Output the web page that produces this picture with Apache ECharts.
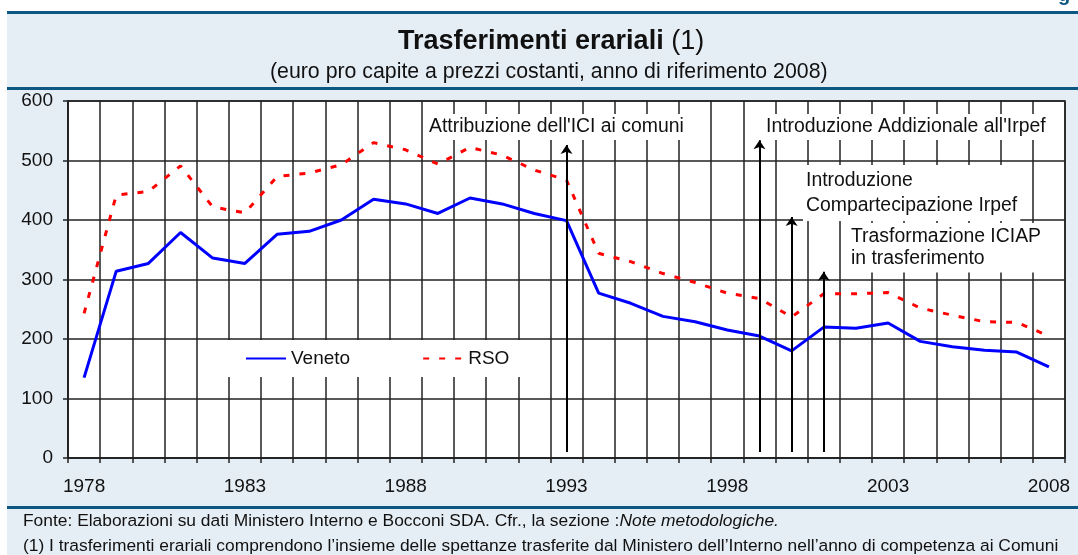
<!DOCTYPE html>
<html>
<head>
<meta charset="utf-8">
<script src="https://cdn.jsdelivr.net/npm/echarts@6/dist/echarts.min.js"></script>
<style>
  html, body { margin: 0; padding: 0; background: #fff; }
  #chart { width: 1078px; height: 555px; }
</style>
</head>
<body>
<div id="chart"></div>
<script>
// anni 1978-2008
const years = ["1978", "1979", "1980", "1981", "1982", "1983", "1984", "1985", "1986", "1987",
  "1988", "1989", "1990", "1991", "1992", "1993", "1994", "1995", "1996", "1997",
  "1998", "1999", "2000", "2001", "2002", "2003", "2004", "2005", "2006", "2007", "2008"];
const veneto = [135, 314, 327, 379, 336, 327, 376, 381, 400, 435,
  427, 411, 437, 427, 411, 399, 277, 260, 238, 229,
  215, 205, 180, 220, 218, 227, 196, 187, 181, 178, 153];
const rso = [243, 442, 448, 491, 422, 412, 473, 479, 493, 530,
  518, 494, 522, 509, 484, 467, 344, 330, 310, 295,
  277, 268, 237, 276, 276, 278, 252, 240, 229, 228, 205];

// frecce: anno, altezza della punta
const arrowYears = ["1993", "1999", "2000", "2001"];
const arrowTops = [526, 534, 405, 313];
const arrowBase = 10;

const titleText = "Trasferimenti erariali";
const subtitleText = "(euro pro capite a prezzi costanti, anno di riferimento 2008)";
const noteFonte = "Fonte: Elaborazioni su dati Ministero Interno e Bocconi SDA. Cfr., la sezione :";
const noteFonteItalic = "Note metodologiche.";
const note1 = "(1) I trasferimenti erariali comprendono l\u2019insieme delle spettanze trasferite dal Ministero dell\u2019Interno nell\u2019anno di competenza ai Comuni";

const FONT = '"Liberation Sans", Arial, sans-serif';
const DARK = "#0d5783";
const GRIDC = "#222";
const TXT = "#111";

let myChart = echarts.init(document.getElementById("chart"));

const annot = function (text, left, top, lineHeight) {
  return {
    type: "text",
    left: left,
    top: top,
    z: 10,
    style: {
      text: text,
      fill: TXT,
      fontSize: 19.4,
      fontFamily: FONT,
      lineHeight: lineHeight,
      backgroundColor: "#fff",
      padding: [3, 3],
    },
  };
};

let option = {
  animation: false,
  backgroundColor: "#e6eef5",
  title: [
    {
      text: "{b|" + titleText + "} {n|(1)}",
      left: 398,
      top: 28,
      padding: 0,
      textStyle: {
        fontFamily: FONT,
        fontSize: 27,
        fontWeight: "normal",
        color: TXT,
        rich: {
          b: { fontFamily: FONT, fontSize: 27, fontWeight: "bold", color: TXT },
          n: { fontFamily: FONT, fontSize: 27, color: TXT },
        },
      },
    },
    {
      text: subtitleText,
      left: 270,
      top: 62,
      padding: 0,
      textStyle: { fontFamily: FONT, fontSize: 21.3, fontWeight: "normal", color: TXT },
    },
    {
      text: "{n|" + noteFonte + "}{i|" + noteFonteItalic + "}",
      left: 23,
      top: 513,
      padding: 0,
      textStyle: {
        fontFamily: FONT,
        fontSize: 17.4,
        fontWeight: "normal",
        color: TXT,
        rich: {
          n: { fontFamily: FONT, fontSize: 17.4, color: TXT },
          i: { fontFamily: FONT, fontSize: 17.4, fontStyle: "italic", color: TXT },
        },
      },
    },
    {
      text: note1,
      left: 23,
      top: 538,
      padding: 0,
      textStyle: { fontFamily: FONT, fontSize: 17.4, fontWeight: "normal", color: TXT },
    },
  ],
  legend: {
    data: ["Veneto", "RSO"],
    left: 207,
    top: 340,
    padding: [9, 38],
    itemGap: 72,
    itemWidth: 40,
    itemHeight: 14,
    itemStyle: { opacity: 0 },
    backgroundColor: "#fff",
    textStyle: { fontFamily: FONT, fontSize: 19, color: TXT },
  },
  grid: {
    left: 68,
    right: 13,
    top: 101,
    bottom: 97,
    show: true,
    backgroundColor: "#fff",
    borderColor: GRIDC,
    borderWidth: 1.5,
  },
  xAxis: {
    type: "category",
    data: years,
    boundaryGap: true,
    axisLine: { lineStyle: { color: GRIDC, width: 1.5 } },
    axisTick: { show: true, interval: 0, length: 5, lineStyle: { color: GRIDC, width: 1.5 } },
    axisLabel: { interval: 4, fontFamily: FONT, fontSize: 19, color: TXT, margin: 19 },
    splitLine: { show: true, interval: 0, lineStyle: { color: GRIDC, width: 1.5 } },
  },
  yAxis: {
    type: "value",
    min: 0,
    max: 600,
    interval: 100,
    axisLine: { show: true, lineStyle: { color: GRIDC, width: 1.5 } },
    axisTick: { show: true, length: 5, lineStyle: { color: GRIDC, width: 1.5 } },
    axisLabel: { fontFamily: FONT, fontSize: 19, color: TXT, margin: 15 },
    splitLine: { show: true, lineStyle: { color: GRIDC, width: 1.5 } },
  },
  series: [
    {
      name: "Veneto",
      type: "line",
      data: veneto,
      symbol: "none",
      z: 3,
      lineStyle: { color: "#0000ff", width: 3 },
      itemStyle: { color: "#0000ff" },
      markLine: {
        silent: true,
        symbol: ["none", "arrow"],
        symbolSize: 9,
        label: { show: false },
        lineStyle: { color: "#000", width: 2, type: "solid" },
        data: arrowYears.map(function (y, i) {
          return [{ coord: [y, arrowBase] }, { coord: [y, arrowTops[i]] }];
        }),
      },
    },
    {
      name: "RSO",
      type: "line",
      data: rso,
      symbol: "none",
      z: 3,
      lineStyle: { color: "#ff0000", width: 3, type: [6, 10] },
      itemStyle: { color: "#ff0000" },
    },
  ],
  graphic: [
    // bordi bianchi e filetti blu
    { type: "rect", left: 0, top: 0, z: -1, shape: { width: 1078, height: 11 }, style: { fill: "#fff" } },
    { type: "rect", left: 0, top: 0, z: -1, shape: { width: 7, height: 555 }, style: { fill: "#fff" } },
    { type: "rect", left: 7, top: 11, z: -1, shape: { width: 1071, height: 3 }, style: { fill: DARK } },
    { type: "rect", left: 7, top: 87, z: -1, shape: { width: 1071, height: 3 }, style: { fill: DARK } },
    { type: "rect", left: 7, top: 506, z: -1, shape: { width: 1071, height: 3 }, style: { fill: DARK } },
    {
      type: "text",
      left: 1058,
      top: -15,
      style: { text: "g", fill: DARK, fontSize: 20, fontWeight: "bold", fontFamily: FONT },
    },
    annot("Attribuzione dell'ICI ai comuni", 426, 114, 20),
    annot("Introduzione Addizionale all'Irpef", 763, 114, 20),
    annot("Introduzione\nCompartecipazione Irpef", 803, 165, 25),
    annot("Trasformazione ICIAP\nin trasferimento", 848, 223, 21.7),
  ],
};

myChart.setOption(option);
</script>
</body>
</html>
